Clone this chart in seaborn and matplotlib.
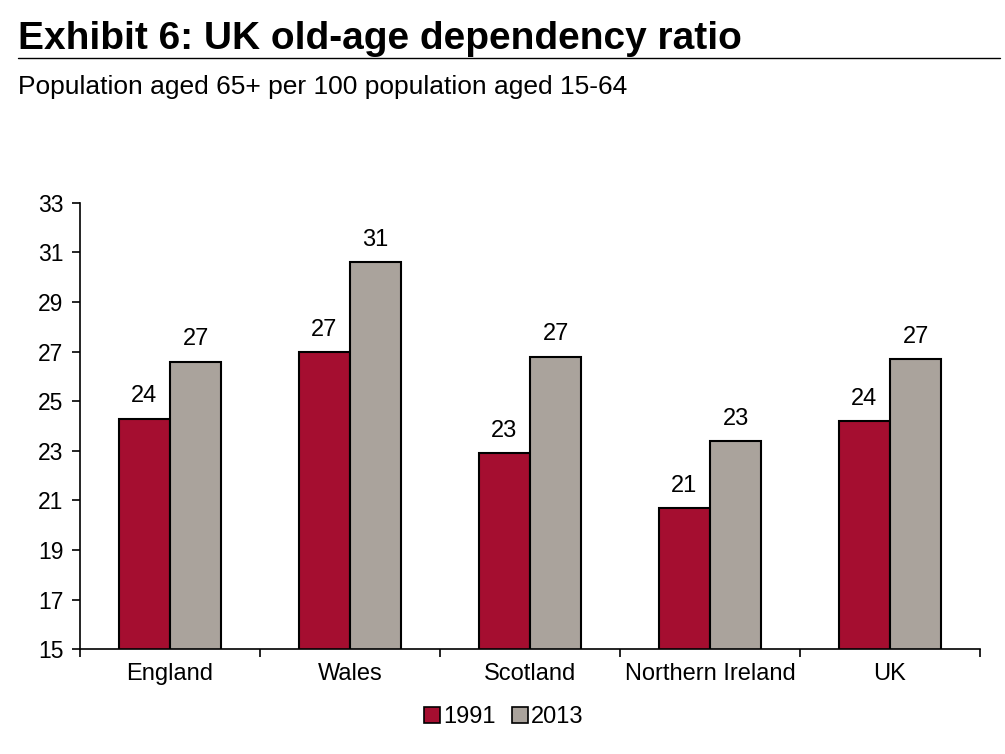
import pandas as pd
import seaborn as sns
import matplotlib.pyplot as plt
from matplotlib.ticker import FixedLocator
from matplotlib.lines import Line2D

regions = ["England", "Wales", "Scotland", "Northern Ireland", "UK"]
ratio_1991 = [24.3, 27.0, 22.9, 20.7, 24.2]
ratio_2013 = [26.6, 30.6, 26.8, 23.4, 26.7]
years = ["1991", "2013"]
colors = ["#A50E30", "#AAA39C"]

df = pd.DataFrame({
    "region": regions * 2,
    "year": [years[0]] * len(regions) + [years[1]] * len(regions),
    "ratio": ratio_1991 + ratio_2013,
})

sns.set_style("white")
plt.rcParams["font.family"] = ["Liberation Sans", "DejaVu Sans"]
plt.rcParams["text.color"] = "black"
plt.rcParams["xtick.color"] = "black"
plt.rcParams["ytick.color"] = "black"

fig = plt.figure(figsize=(10.05, 7.54), dpi=100)
ax = fig.add_axes([0.0796, 0.139, 0.8955, 0.592])

sns.barplot(data=df, x="region", y="ratio", hue="year", palette=colors,
            saturation=1, width=0.57, edgecolor="black", linewidth=1.5,
            ax=ax, legend=False)

for cont in ax.containers:
    ax.bar_label(cont, fmt="%.0f", padding=8, fontsize=17)

ax.set_ylim(15, 33)
ax.set_yticks(range(15, 34, 2))
ax.set_xlim(-0.5, len(regions) - 0.5)
ax.set_xlabel("")
ax.set_ylabel("")
ax.tick_params(axis="y", labelsize=16.5, length=6, width=1.2, direction="out",
               left=True, pad=6)
ax.tick_params(axis="x", which="major", labelsize=17, length=0, pad=10)
ax.xaxis.set_minor_locator(FixedLocator([i - 0.5 for i in range(len(regions) + 1)]))
ax.tick_params(axis="x", which="minor", length=6, width=1.2, direction="out", bottom=True)
for side in ["top", "right"]:
    ax.spines[side].set_visible(False)
for side in ["left", "bottom"]:
    ax.spines[side].set_color("black")
    ax.spines[side].set_linewidth(1.2)

handles = [Line2D([0], [0], marker="s", linestyle="", markersize=11,
                  markerfacecolor=c, markeredgecolor="black", markeredgewidth=1.2)
           for c in colors]
fig.legend(handles, years, loc="center", bbox_to_anchor=(0.5, 0.049), ncol=2,
           frameon=False, fontsize=17, handletextpad=0.0, columnspacing=0.6,
           handlelength=0.9)

fig.text(0.018, 0.948, "Exhibit 6: UK old-age dependency ratio", fontsize=28,
         fontweight="bold", va="center", ha="left")
fig.add_artist(Line2D([0.018, 0.995], [0.923, 0.923], color="black", linewidth=1,
                      transform=fig.transFigure))
fig.text(0.018, 0.884, "Population aged 65+ per 100 population aged 15-64",
         fontsize=19, va="center", ha="left")

fig.savefig("out.png", dpi=100)
plt.close(fig)
